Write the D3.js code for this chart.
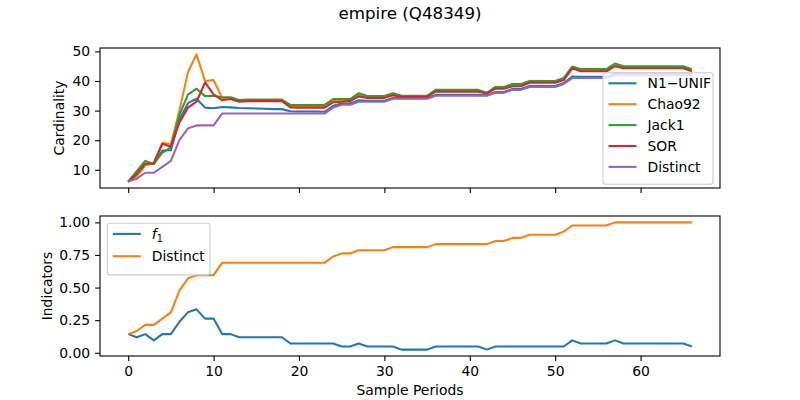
<!DOCTYPE html>
<html>
<head>
<meta charset="utf-8">
<script src="https://cdn.jsdelivr.net/npm/d3@7"></script>
<style>
  body { margin: 0; background: #fff; }
  text { font-family: "DejaVu Sans", sans-serif; fill: #000; }
</style>
</head>
<body>
<div id="container"></div>
<script>
// values, one per sample period (0..66)
var n1Unif = [
  6, 8.3, 12, 12, 16.5, 16.6, 27, 32.5, 34, 31,
  30.8, 31.2, 31.1, 30.9, 30.8, 30.7, 30.6, 30.5, 30.5, 29.8,
  29.7, 29.7, 29.7, 29.6, 31.6, 32.4, 32.4, 33.5, 33.3, 33.3,
  33.3, 34.3, 34.2, 34.2, 34.2, 34.2, 35.3, 35.3, 35.3, 35.3,
  35.3, 35.3, 35.2, 36.3, 36.3, 37.3, 37.3, 38.3, 38.3, 38.3,
  38.3, 39.3, 41.5, 41.4, 41.4, 41.4, 41.4, 42.5, 42.4, 42.4,
  42.4, 42.4, 42.4, 42.4, 42.4, 42.4, 42.3
];
var chao92 = [
  6, 7.9, 11.5, 12.2, 19, 18.7, 30, 43, 49, 40,
  40.3, 34.3, 34.2, 33.4, 33.5, 33.5, 33.5, 33.5, 33.5, 31.5,
  31.5, 31.5, 31.5, 31.5, 33.4, 33.5, 33.6, 35.4, 34.6, 34.6,
  34.6, 35.6, 34.8, 34.8, 34.8, 34.8, 36.7, 36.7, 36.7, 36.7,
  36.7, 36.7, 35.9, 37.7, 37.7, 38.6, 38.6, 39.7, 39.7, 39.7,
  39.7, 40.6, 44.6, 43.6, 43.6, 43.6, 43.6, 45.4, 44.6, 44.6,
  44.6, 44.6, 44.6, 44.6, 44.6, 44.6, 43.6
];
var jack1 = [
  6, 9.5, 13, 12, 15.8, 17.6, 28.6, 35.4, 37.4, 34.9,
  35, 34.5, 34.5, 33.6, 33.7, 33.7, 33.7, 33.7, 33.7, 31.9,
  31.9, 31.9, 31.9, 31.9, 33.9, 33.9, 33.9, 35.9, 34.9, 34.9,
  34.9, 35.9, 35, 35, 35, 35, 37, 37, 37, 37,
  37, 37, 36, 38, 38, 39, 39, 40, 40, 40,
  40, 41, 44.9, 44, 44, 44, 44, 45.9, 45, 45,
  45, 45, 45, 45, 45, 45, 44
];
var sor = [
  6, 8.5, 12, 12.2, 18.8, 17.8, 26, 31, 33, 39.5,
  35.5, 33.5, 33.9, 33, 33.2, 33.2, 33.2, 33.2, 33.2, 31.1,
  31, 31, 31, 31, 32.8, 33, 33.2, 34.8, 34.3, 34.3,
  34.3, 35.2, 34.6, 34.6, 34.6, 34.6, 36.4, 36.4, 36.4, 36.4,
  36.4, 36.4, 35.8, 37.4, 37.4, 38.2, 38.2, 39.4, 39.4, 39.4,
  39.4, 40.3, 44.3, 43.3, 43.3, 43.3, 43.3, 45, 44.3, 44.3,
  44.3, 44.3, 44.3, 44.3, 44.3, 44.3, 43.3
];
var distinct = [
  6, 7, 9, 9, 11, 13, 20, 24, 25, 25,
  25, 29, 29, 29, 29, 29, 29, 29, 29, 29,
  29, 29, 29, 29, 31, 32, 32, 33, 33, 33,
  33, 34, 34, 34, 34, 34, 35, 35, 35, 35,
  35, 35, 35, 36, 36, 37, 37, 38, 38, 38,
  38, 39, 41, 41, 41, 41, 41, 42, 42, 42,
  42, 42, 42, 42, 42, 42, 42
];
var f1Ratio = [
  .143, .119, .143, .095, .143, .143, .238, .310, .333, .262,
  .262, .143, .143, .119, .119, .119, .119, .119, .119, .071,
  .071, .071, .071, .071, .071, .048, .048, .071, .048, .048,
  .048, .048, .024, .024, .024, .024, .048, .048, .048, .048,
  .048, .048, .024, .048, .048, .048, .048, .048, .048, .048,
  .048, .048, .095, .071, .071, .071, .071, .095, .071, .071,
  .071, .071, .071, .071, .071, .071, .048
];
var distinctRatio = [
  .143, .167, .214, .214, .262, .310, .476, .571, .595, .595,
  .595, .690, .690, .690, .690, .690, .690, .690, .690, .690,
  .690, .690, .690, .690, .738, .762, .762, .786, .786, .786,
  .786, .810, .810, .810, .810, .810, .833, .833, .833, .833,
  .833, .833, .833, .857, .857, .881, .881, .905, .905, .905,
  .905, .929, .976, .976, .976, .976, .976, 1, 1, 1,
  1, 1, 1, 1, 1, 1, 1
];

var topSeries = [
  { name: "N1\u2212UNIF", color: "#1f77b4", values: n1Unif },
  { name: "Chao92", color: "#ff7f0e", values: chao92 },
  { name: "Jack1", color: "#2ca02c", values: jack1 },
  { name: "SOR", color: "#d62728", values: sor },
  { name: "Distinct", color: "#9467bd", values: distinct }
];
var bottomSeries = [
  { name: "f1", color: "#1f77b4", values: f1Ratio },
  { name: "Distinct", color: "#ff7f0e", values: distinctRatio }
];
var xTicks = [0, 10, 20, 30, 40, 50, 60];
var topTicks = [10, 20, 30, 40, 50];
var bottomTicks = [0, 0.25, 0.5, 0.75, 1];

var W = 800, H = 400;
var left = 100, right = 720;
var topPanel = { y0: 48, y1: 188 };
var botPanel = { y0: 216, y1: 356 };
var FS = 13.9;

var svg = d3.select("#container").append("svg")
  .attr("width", W).attr("height", H);
svg.append("rect").attr("width", W).attr("height", H).attr("fill", "#fff");

var periods = d3.range(distinct.length);

function padded(lo, hi) {
  var p = (hi - lo) * 0.05;
  return [lo - p, hi + p];
}

var x = d3.scaleLinear()
  .domain(padded(0, periods.length - 1))
  .range([left, right]);

function panel(box, series, ticks, fmt, showX) {
  var all = [];
  series.forEach(function(s) { all = all.concat(s.values); });
  var y = d3.scaleLinear()
    .domain(padded(d3.min(all), d3.max(all)))
    .range([box.y1, box.y0]);

  var g = svg.append("g");

  var line = d3.line()
    .x(function(d, i) { return x(i); })
    .y(function(d) { return y(d); });

  series.forEach(function(s) {
    g.append("path")
      .attr("d", line(s.values))
      .attr("fill", "none")
      .attr("stroke", s.color)
      .attr("stroke-width", 2.08)
      .attr("stroke-linejoin", "round");
  });

  var xa = g.append("g")
    .attr("transform", "translate(0," + box.y1 + ")")
    .call(d3.axisBottom(x).tickValues(xTicks).tickSize(4.9).tickPadding(4.9)
      .tickFormat(showX ? d3.format("d") : function() { return ""; }));
  var ya = g.append("g")
    .attr("transform", "translate(" + left + ",0)")
    .call(d3.axisLeft(y).tickValues(ticks).tickSize(4.9).tickPadding(4.9)
      .tickFormat(fmt));

  [xa, ya].forEach(function(a) {
    a.select(".domain").remove();
    a.selectAll("line").attr("stroke", "#000").attr("stroke-width", 1.1);
    a.selectAll("text")
      .attr("fill", "#000")
      .style("font-family", "'DejaVu Sans', sans-serif")
      .style("font-size", FS + "px");
  });

  g.append("rect")
    .attr("x", left).attr("y", box.y0)
    .attr("width", right - left).attr("height", box.y1 - box.y0)
    .attr("fill", "none").attr("stroke", "#000").attr("stroke-width", 1.1);

  return g;
}

function legend(g, lx, ly, w, rowH, items) {
  var h = items.length * rowH + 7;
  g.append("rect")
    .attr("x", lx).attr("y", ly)
    .attr("width", w).attr("height", h)
    .attr("rx", 2.8)
    .attr("fill", "#fff").attr("fill-opacity", 0.8)
    .attr("stroke", "#ccc").attr("stroke-width", 1.1);

  var rows = g.selectAll(".lg").data(items).enter().append("g")
    .attr("transform", function(d, i) {
      return "translate(" + lx + "," + (ly + 10.6 + i * rowH) + ")";
    });
  rows.append("line")
    .attr("x1", 5.5).attr("x2", 33.5)
    .attr("stroke", function(d) { return d.color; })
    .attr("stroke-width", 2.08);
  rows.each(function(d) {
    var t = d3.select(this).append("text")
      .attr("x", 44.5)
      .attr("dy", "0.35em")
      .style("font-size", FS + "px");
    if (d.name === "f1") {
      t.append("tspan").attr("font-style", "italic").text("f");
      t.append("tspan").attr("dy", "0.3em").style("font-size", "9.7px").text("1");
    } else {
      t.text(d.name);
    }
  });
}

var gTop = panel(topPanel, topSeries, topTicks, d3.format("d"), false);
var gBot = panel(botPanel, bottomSeries, bottomTicks, d3.format(".2f"), true);

legend(gTop, 603, 72.7, 110, 20.9, topSeries);
legend(gBot, 107.3, 223.3, 102.7, 22.3, bottomSeries);

svg.append("text")
  .attr("x", 410).attr("y", 19)
  .attr("text-anchor", "middle")
  .style("font-size", "16.7px")
  .text("empire (Q48349)");

svg.append("text")
  .attr("x", 410).attr("y", 395)
  .attr("text-anchor", "middle")
  .style("font-size", FS + "px")
  .text("Sample Periods");

svg.append("text")
  .attr("transform", "translate(64," + ((topPanel.y0 + topPanel.y1) / 2) + ") rotate(-90)")
  .attr("text-anchor", "middle")
  .style("font-size", FS + "px")
  .text("Cardinality");

svg.append("text")
  .attr("transform", "translate(52," + ((botPanel.y0 + botPanel.y1) / 2) + ") rotate(-90)")
  .attr("text-anchor", "middle")
  .style("font-size", FS + "px")
  .text("Indicators");
</script>
</body>
</html>
